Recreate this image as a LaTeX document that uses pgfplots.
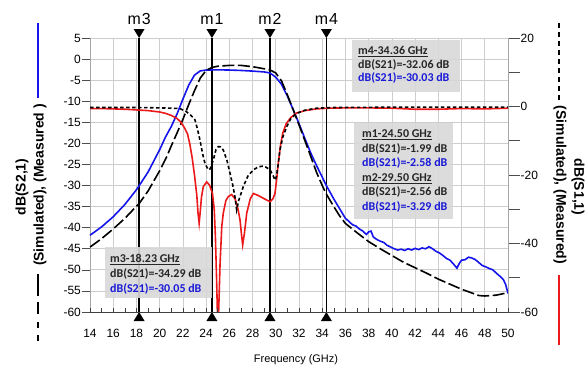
\documentclass[border=0pt]{standalone}
\usepackage{pgfplots}
\pgfplotsset{compat=1.18}
\usepackage{fontspec}
\setmainfont{Liberation Sans}
\newfontfamily\calibri{Carlito}
\definecolor{mblue}{RGB}{20,20,235}
\definecolor{mred}{RGB}{235,25,25}
\definecolor{tblue}{RGB}{25,25,215}
\definecolor{boxgray}{RGB}{216,216,216}
\definecolor{gridgray}{RGB}{205,205,205}

\pgfplotstableread{
f v
14 -41.8
15 -39.8
16 -37.4
17 -34.5
18 -31.0
18.23 -30.05
19 -26.8
20 -21.5
20.5 -18.5
21 -16.0
21.5 -13.0
22 -9.5
22.5 -6.2
23 -3.8
23.5 -2.8
24 -2.6
24.5 -2.58
25 -2.55
26 -2.6
27 -2.7
28 -2.85
29 -3.05
29.5 -3.29
30 -4.3
30.5 -6.0
31 -8.8
31.5 -12.0
32 -15.3
32.5 -18.8
33 -22.2
33.5 -25.2
34 -28.0
34.36 -30.03
35 -33.2
35.5 -35.5
36 -37.8
36.3 -38.5
36.6 -39.3
36.9 -39.6
37.2 -40.3
37.5 -40.8
37.8 -41.6
38.0 -41.0
38.2 -40.8
38.4 -42.2
38.7 -42.8
39.0 -43.2
39.3 -43.5
39.6 -44.2
39.9 -44.6
40.2 -45.0
40.5 -45.3
40.8 -45.1
41.1 -45.4
41.4 -45.0
41.7 -45.3
42.0 -44.9
42.3 -45.2
42.6 -44.8
42.9 -45.0
43.2 -44.5
43.5 -45.0
43.8 -45.6
44.1 -46.0
44.4 -46.6
44.7 -47.3
45.0 -47.7
45.3 -48.6
45.6 -49.6
45.8 -48.5
46.0 -47.7
46.3 -47.6
46.6 -47.0
46.9 -47.2
47.2 -47.6
47.5 -48.3
47.8 -49.0
48.1 -49.3
48.4 -49.7
48.7 -50.0
49.0 -50.8
49.3 -51.5
49.6 -52.3
49.8 -53.5
50.0 -55.6
}\sttmeas

\pgfplotstableread{
f v
14 -44.6
15 -42.6
16 -40.3
17 -37.8
18 -34.9
18.23 -34.29
19 -31.3
20 -26.5
20.6 -23.2
21 -20.6
21.5 -17.5
22 -14.3
22.5 -10.8
23 -7.5
23.5 -4.5
24 -2.7
24.5 -1.99
25 -1.7
26 -1.5
27 -1.5
28 -1.8
29 -2.3
29.5 -2.56
30 -3.3
30.5 -5.2
31 -8.5
31.5 -12.0
32 -15.6
32.5 -19.3
33 -23.0
33.5 -26.8
34 -30.0
34.36 -32.06
35 -35.0
35.5 -37.2
36 -39.0
37 -41.2
38 -43.3
39 -45.0
40 -46.6
41 -48.2
42 -49.5
43 -50.8
44 -52.2
45 -53.4
46 -54.6
47 -55.6
47.5 -56.1
48 -56.2
49 -56.0
50 -55.4
}\sttsim

\pgfplotstableread{
f v
14 -0.6
15 -0.6
16 -0.7
17 -0.8
18 -1.0
19 -1.2
20 -1.6
20.5 -2.0
21 -2.6
21.5 -3.5
21.8 -4.5
22.1 -6.0
22.4 -8.0
22.6 -11.0
22.8 -15.0
23.0 -20.0
23.1 -23.0
23.2 -26.0
23.3 -31.0
23.4 -34.1
23.5 -30.5
23.6 -26.5
23.76 -23.4
24.05 -22.0
24.3 -23.0
24.55 -25.4
24.7 -30.0
24.8 -38.0
24.9 -50.0
24.97 -60.0
25.08 -60.0
25.2 -46.0
25.35 -35.0
25.48 -31.1
25.7 -27.5
25.91 -26.3
26.2 -25.7
26.5 -27.0
26.75 -30.0
26.92 -33.1
27.05 -37.5
27.15 -40.4
27.3 -37.0
27.5 -31.1
27.8 -27.0
28.07 -25.4
28.5 -26.0
28.93 -26.8
29.5 -27.8
29.75 -27.0
29.93 -25.4
30.07 -21.5
30.2 -17.0
30.4 -11.5
30.6 -7.8
30.9 -5.0
31.3 -3.2
31.8 -1.9
32.5 -1.2
33.5 -0.7
34.5 -0.5
36 -0.4
38 -0.4
40 -0.5
42 -0.8
44 -0.8
46 -0.6
48 -0.7
50 -0.5
}\soomeas

\pgfplotstableread{
f v
14 -0.3
18 -0.3
20 -0.4
21 -0.5
21.75 -0.6
22.3 -1.5
22.7 -2.6
23.04 -3.9
23.25 -6.5
23.47 -9.8
23.7 -13.8
23.9 -16.6
24.19 -18.5
24.35 -18.2
24.62 -15.6
24.85 -12.6
25.05 -11.7
25.25 -11.8
25.48 -12.7
25.8 -15.8
26.06 -19.5
26.3 -23.0
26.49 -26.5
26.63 -30.2
26.8 -27.5
27.0 -25.5
27.2 -23.4
27.6 -20.3
28.07 -18.5
28.5 -17.6
28.93 -17.4
29.2 -17.8
29.5 -18.5
29.75 -20.0
29.93 -21.5
30.05 -20.5
30.2 -17.0
30.36 -12.7
30.6 -9.0
30.94 -5.9
31.3 -3.5
31.8 -2.0
32.5 -1.1
33.5 -0.5
35 -0.3
40 -0.2
45 -0.2
50 -0.2
}\soosim

\begin{document}
\begin{tikzpicture}
\useasboundingbox (-90bp,-56bp) rectangle (497bp,312bp);

% ---------- left axis: S21 ----------
\begin{axis}[
  at={(0,0)}, anchor=south west, scale only axis,
  width=418bp, height=274bp,
  xmin=14, xmax=50, ymin=-60, ymax=5,
  axis x line*=bottom, axis y line*=left,
  axis line style={-, draw=gray!70, line width=0.8bp},
  xtick={14,16,...,50}, xticklabels={}, xtick style={draw=none},
  ytick={-60,-55,...,5},
  yticklabels={-60,-55,-50,-45,-40,-35,-30,-25,-20,-15,-10,-5,0,5},
  tick align=outside, major tick length=8bp,
  ytick style={draw=black!70, line width=0.6bp},
  yticklabel style={font=\fontsize{12}{14}\selectfont, inner sep=1bp},
  grid=major, major grid style={draw=gridgray, line width=0.7bp},
  clip=false,
]
\foreach \m in {18.23,24.5,29.5,34.36}{
  \edef\tmp{\noexpand\draw[black, line width=1.3bp] (axis cs:\m,-60) -- (axis cs:\m,5);
  \noexpand\fill[black] (axis cs:\m,5) -- ++(-5.5bp,9bp) -- ++(11bp,0bp) -- cycle;
  \noexpand\fill[black] (axis cs:\m,-60) -- ++(-5.5bp,-9bp) -- ++(11bp,0bp) -- cycle;}
  \tmp
}
\node[font=\fontsize{16}{19}\selectfont] at (axis cs:18.23,5) [yshift=19bp] {m\kern1pt3};
\node[font=\fontsize{16}{19}\selectfont] at (axis cs:24.5,5) [yshift=19bp] {m\kern1pt1};
\node[font=\fontsize{16}{19}\selectfont] at (axis cs:29.5,5) [yshift=19bp] {m\kern1pt2};
\node[font=\fontsize{16}{19}\selectfont] at (axis cs:34.36,5) [yshift=19bp] {m\kern1pt4};
\addplot[mblue, line width=1.6bp] table[x=f,y=v] {\sttmeas};
\addplot[black, line width=1.6bp, dash pattern=on 12bp off 3.5bp] table[x=f,y=v] {\sttsim};
\end{axis}

% ---------- right axis: S11 ----------
\begin{axis}[
  at={(0,0)}, anchor=south west, scale only axis,
  width=418bp, height=274bp,
  xmin=14, xmax=50, ymin=-60, ymax=20,
  axis x line=none, axis y line*=right,
  axis line style={-, draw=gray!70, line width=0.8bp},
  ytick={-60,-40,...,20}, yticklabels={-60,-40,-20,0,20},
  minor ytick={-50,-30,-10,10},
  tick align=outside, major tick length=12bp, minor tick length=12bp,
  ytick style={draw=black!70, line width=0.6bp},
  minor tick style={draw=black!70, line width=0.6bp},
  yticklabel style={font=\fontsize{12}{14}\selectfont, inner sep=0.5bp},
  clip=false,
]
\addplot[mred, line width=1.6bp] table[x=f,y=v] {\soomeas};
\addplot[black, line width=1.6bp, dash pattern=on 3.5bp off 2.5bp] table[x=f,y=v] {\soosim};
\end{axis}

% ---------- x ticks ----------
\begin{axis}[
  at={(0,0)}, anchor=south west, scale only axis,
  width=418bp, height=274bp,
  xmin=14, xmax=50, ymin=0, ymax=1,
  axis y line=none, axis x line*=bottom,
  axis line style={-, draw=black!75, line width=0.9bp},
  xtick={14,16,...,50}, minor xtick={15,17,...,49},
  xticklabels={14,16,18,20,22,24,26,28,30,32,34,36,38,40,42,44,46,48,50},
  tick align=inside, major tick length=4bp, minor tick length=4bp,
  xtick style={draw=black!75, line width=0.6bp},
  minor tick style={draw=black!75, line width=0.6bp},
  xticklabel style={font=\fontsize{12}{14}\selectfont, anchor=center, yshift=-21bp},
]
\end{axis}

% ---------- marker boxes ----------
\fill[boxgray, fill opacity=0.9] (262bp,220bp) rectangle (370bp,272bp);
\node[anchor=base west, inner sep=0pt, font=\calibri\bfseries\fontsize{12}{14}\selectfont, text=black!85] at (268bp,257bp) {\underline{m4-34.36 GHz}};
\node[anchor=base west, inner sep=0pt, font=\calibri\bfseries\fontsize{12}{14}\selectfont, text=black!85] at (268bp,243.5bp) {dB(S21)=-32.06 dB};
\node[anchor=base west, inner sep=0pt, font=\calibri\bfseries\fontsize{12}{14}\selectfont, text=tblue] at (268bp,230bp) {dB(S21)=-30.03 dB};

\fill[boxgray, fill opacity=0.9] (264bp,93bp) rectangle (363bp,189bp);
\node[anchor=base west, inner sep=0pt, font=\calibri\bfseries\fontsize{12}{14}\selectfont, text=black!85] at (272bp,174bp) {\underline{m1-24.50 GHz}};
\node[anchor=base west, inner sep=0pt, font=\calibri\bfseries\fontsize{12}{14}\selectfont, text=black!85] at (272bp,159.5bp) {dB(S21)=-1.99 dB};
\node[anchor=base west, inner sep=0pt, font=\calibri\bfseries\fontsize{12}{14}\selectfont, text=tblue] at (272bp,145bp) {dB(S21)=-2.58 dB};
\node[anchor=base west, inner sep=0pt, font=\calibri\bfseries\fontsize{12}{14}\selectfont, text=black!85] at (272bp,130.5bp) {\underline{m2-29.50 GHz}};
\node[anchor=base west, inner sep=0pt, font=\calibri\bfseries\fontsize{12}{14}\selectfont, text=black!85] at (272bp,116bp) {dB(S21)=-2.56 dB};
\node[anchor=base west, inner sep=0pt, font=\calibri\bfseries\fontsize{12}{14}\selectfont, text=tblue] at (272bp,101.5bp) {dB(S21)=-3.29 dB};

\fill[boxgray, fill opacity=0.9] (15bp,14bp) rectangle (122bp,65bp);
\node[anchor=base west, inner sep=0pt, font=\calibri\bfseries\fontsize{12}{14}\selectfont, text=black!85] at (20bp,49bp) {\underline{m3-18.23 GHz}};
\node[anchor=base west, inner sep=0pt, font=\calibri\bfseries\fontsize{12}{14}\selectfont, text=black!85] at (20bp,34.5bp) {dB(S21)=-34.29 dB};
\node[anchor=base west, inner sep=0pt, font=\calibri\bfseries\fontsize{12}{14}\selectfont, text=tblue] at (20bp,20bp) {dB(S21)=-30.05 dB};

% ---------- axis titles with line samples ----------
\node[rotate=90, font=\bfseries\fontsize{14}{16}\selectfont] at (-68bp,125bp) {dB(S2,1)};
\node[rotate=90, font=\bfseries\fontsize{14}{16}\selectfont] at (-50bp,127bp) {(Simulated), (Measured )};
\draw[mblue, line width=2bp] (-52bp,289bp) -- (-52bp,214bp);
\draw[black, line width=2.4bp, dash pattern=on 22bp off 6bp on 12bp off 8bp on 6bp off 7bp on 6bp off 7bp] (-52bp,38bp) -- (-52bp,-35bp);

\node[rotate=-90, font=\bfseries\fontsize{14}{16}\selectfont] at (488bp,125bp) {dB(S1,1)};
\node[rotate=-90, font=\bfseries\fontsize{14}{16}\selectfont] at (470bp,127bp) {(Simulated), (Measured)};
\draw[black, line width=2.4bp, dash pattern=on 5bp off 4bp] (469bp,289bp) -- (469bp,212bp);
\draw[mred, line width=2bp] (469bp,37bp) -- (469bp,-33bp);

\node[font=\fontsize{11}{13}\selectfont] at (206bp,-48bp) {Frequency (GHz)};
\end{tikzpicture}
\end{document}
